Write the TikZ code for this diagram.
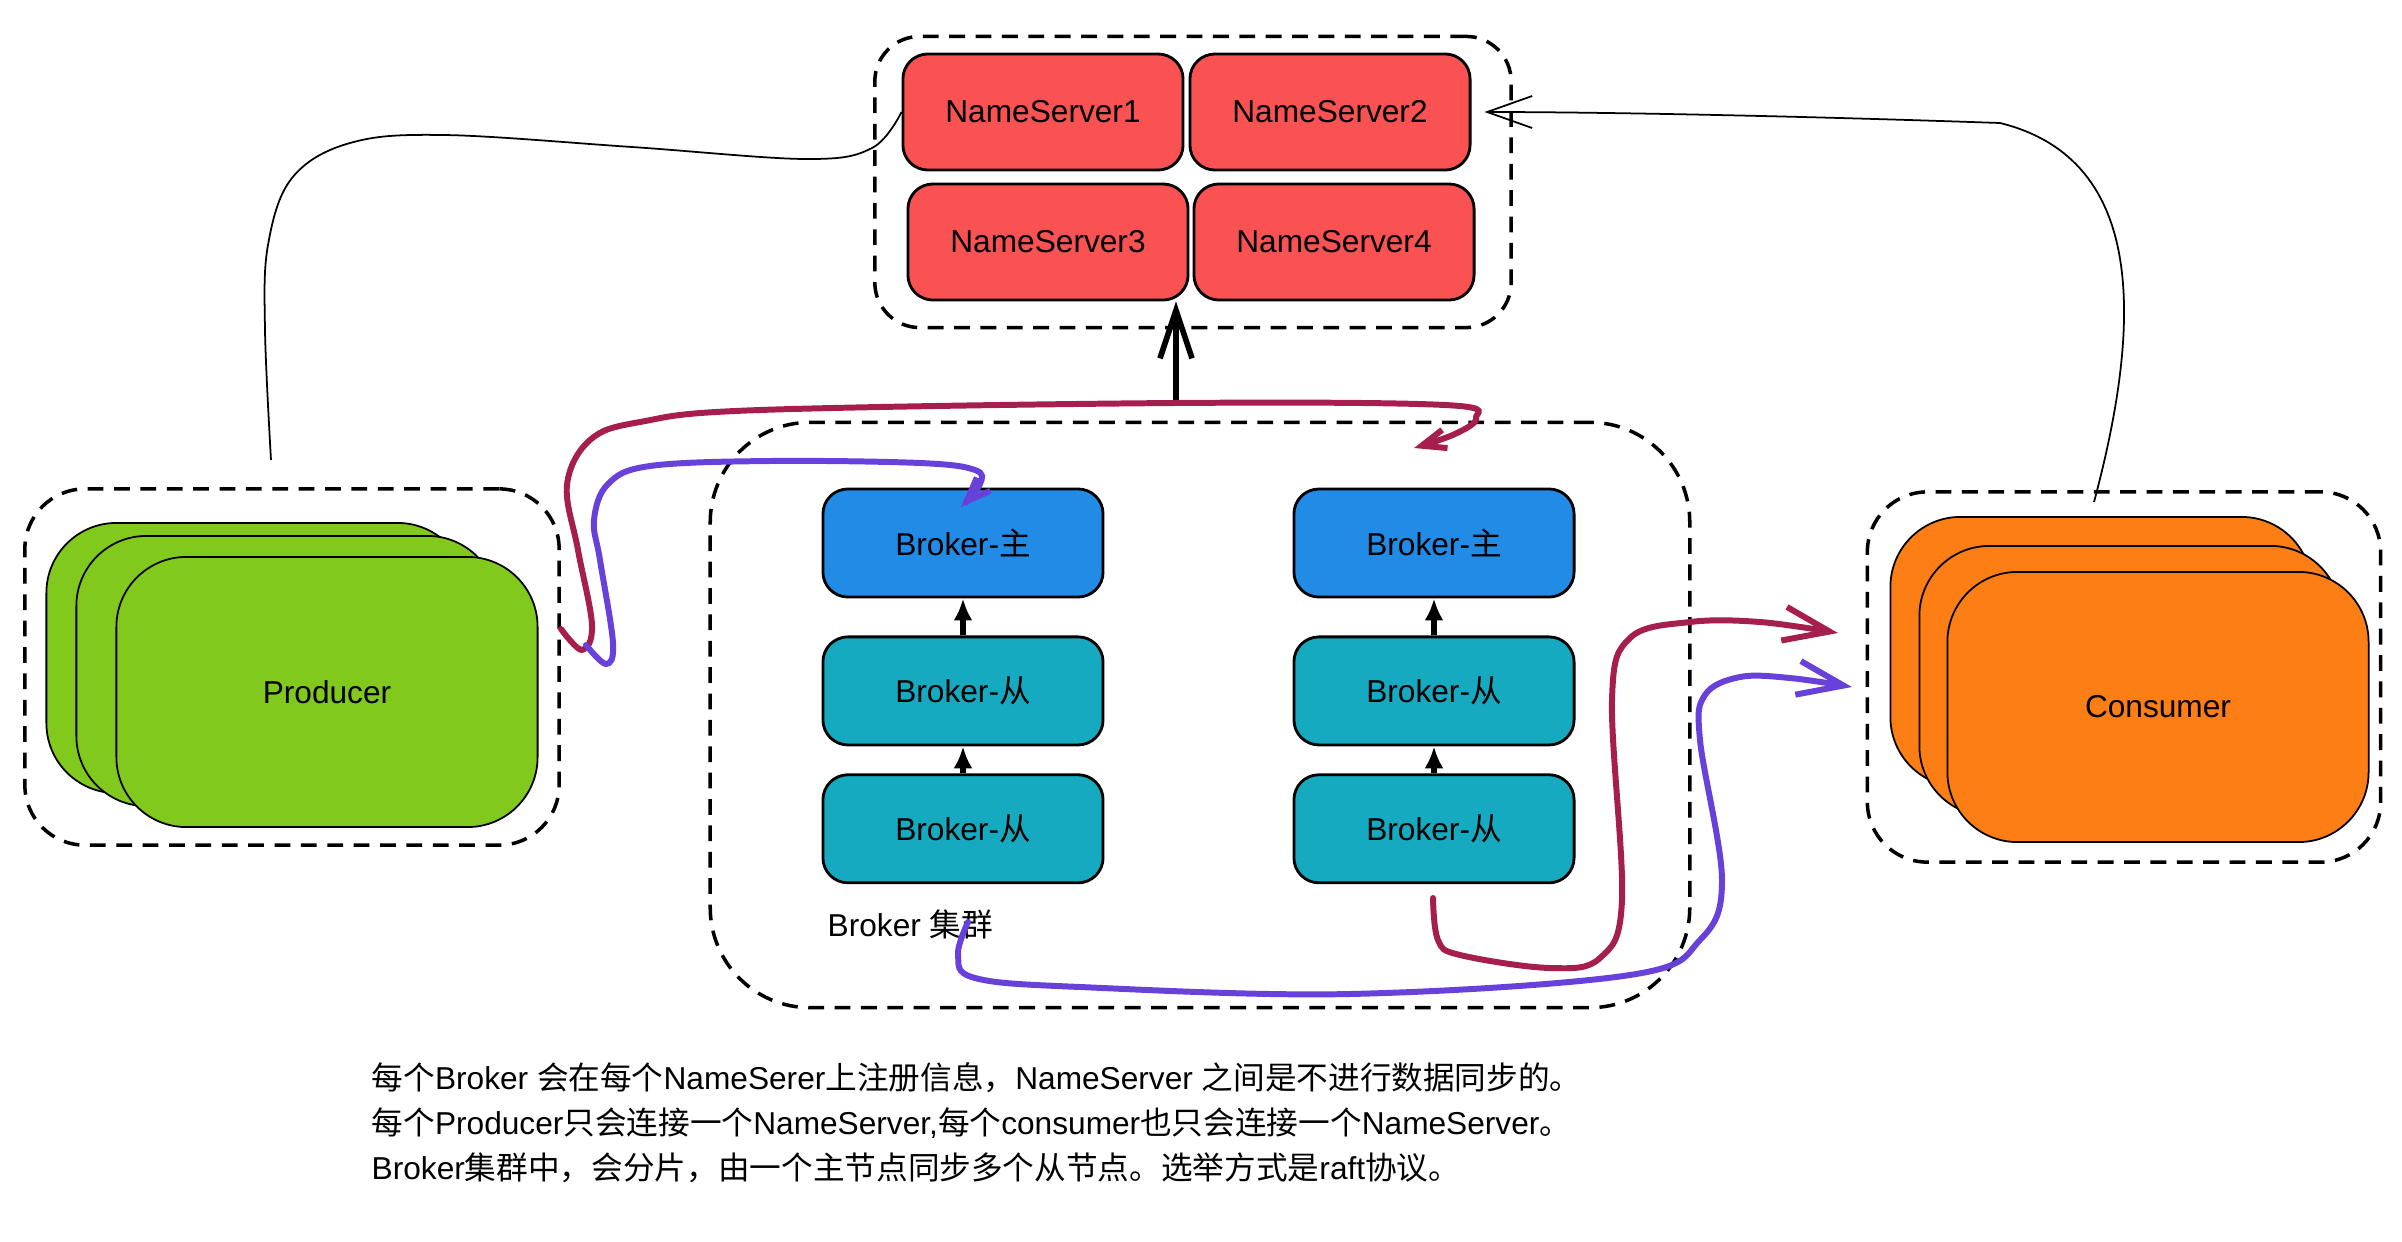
\documentclass[tikz,border=0pt]{standalone}
\usepackage{fontspec}
\setmainfont{Liberation Sans}
\newfontfamily\cjkfont{Noto Sans CJK SC}
\newcommand{\zh}[1]{{\cjkfont #1}}
\usepackage{xcolor}
\usetikzlibrary{arrows.meta,positioning}

\definecolor{nsred}{HTML}{FA5252}
\definecolor{bkblue}{HTML}{228BE6}
\definecolor{bkteal}{HTML}{15AABF}
\definecolor{prgreen}{HTML}{82C91E}
\definecolor{csorange}{HTML}{FD7E14}
\definecolor{magline}{HTML}{A61E4D}
\definecolor{violine}{HTML}{6741D9}

\begin{document}
\begin{tikzpicture}[x=0.01cm,y=-0.01cm,font=\fontsize{9}{11}\selectfont,
	cluster/.style={draw=black,line width=1pt,dash pattern=on 4.5pt off 3pt,rounded corners=#1},
	cluster/.default=6mm,
	ns/.style={draw=black,line width=0.8pt,fill=nsred,rounded corners=2.5mm,minimum width=2.8cm,minimum height=1.16cm},
	master/.style={draw=black,line width=0.8pt,fill=bkblue,rounded corners=2.5mm,minimum width=2.8cm,minimum height=1.08cm},
	slave/.style={master,fill=bkteal},
	card/.style={draw=black,line width=0.5pt,rounded corners=7mm,minimum width=4.21cm,minimum height=2.7cm},
	link/.style={line width=1.7pt,line cap=round,-{Straight Barb[length=4.6mm,width=3.4mm]}},
	shortlink/.style={line width=1.7pt,line cap=round,-{Straight Barb[length=2.4mm,width=1.9mm]}},
	up/.style={line width=1.9pt,-{Latex[length=2.2mm,width=1.9mm]}}]
	\useasboundingbox (0,0) rectangle (2402,1242);
	
	% dashed groups
	\node[cluster=4.5mm,minimum width=6.36cm,minimum height=2.91cm] (nsgrp) at (1193,182) {};
	\node[cluster=1cm,minimum width=9.79cm,minimum height=5.85cm] (bkgrp) at (1200,715) {};
	\node[cluster,minimum width=5.34cm,minimum height=3.56cm] (prgrp) at (292,667) {};
	\node[cluster,minimum width=5.13cm,minimum height=3.70cm] (csgrp) at (2124,677) {};
	
	% name servers
	\node[ns] (ns1) at (1043,112) {NameServer1};
	\node[ns] (ns2) at (1330,112) {NameServer2};
	\node[ns] (ns3) at (1048,242) {NameServer3};
	\node[ns] (ns4) at (1334,242) {NameServer4};
	
	% brokers
	\node[master] (mA) at (963,543) {Broker-\zh{主}};
	\node[slave,below=0.37cm of mA] (sA1) {Broker-\zh{从}};
	\node[slave,below=0.27cm of sA1] (sA2) {Broker-\zh{从}};
	\node[master] (mB) at (1434,543) {Broker-\zh{主}};
	\node[slave,below=0.37cm of mB] (sB1) {Broker-\zh{从}};
	\node[slave,below=0.27cm of sB1] (sB2) {Broker-\zh{从}};
	\node[anchor=west,inner sep=0] (bklabel) at (827,924) {Broker \zh{集群}};
	
	\draw[up] (sA1) -- (mA);
	\draw[up] (sA2) -- (sA1);
	\draw[up] (sB1) -- (mB);
	\draw[up] (sB2) -- (sB1);
	
	% producers and consumers
	\node[card,fill=prgreen] (pr3) at (257,658) {};
	\node[card,fill=prgreen] (pr2) at (287,671) {};
	\node[card,fill=prgreen] (pr1) at (327,692) {Producer};
	\node[card,fill=csorange] (cs3) at (2101,652) {};
	\node[card,fill=csorange] (cs2) at (2130,681) {};
	\node[card,fill=csorange] (cs1) at (2158,707) {Consumer};
	
	% free ends
	\coordinate (prtop) at (271,460);
	\coordinate (cstop) at (2094,502);
	\coordinate (bktop) at (1176,402);
	\coordinate (mgA) at (561,629);
	\coordinate (vtA) at (586,645);
	\coordinate (mgB) at (1433,898);
	\coordinate (vtB) at (968,922);
	
	% thin lines to the name servers
	\draw[line width=0.5pt] plot[smooth,tension=0.6] coordinates {(prtop) (265,330) (268,245) (292,178)
		(350,143) (444,135) (632,147) (806,159) (872,148) (ns1.west)};
	\draw[line width=0.5pt,-{Straight Barb[length=4.5mm,width=3.2mm]},shorten >=1.3mm] (cstop)
		.. controls (2140,330) and (2150,160) .. (2000,123) .. controls (1800,116) and (1600,112) .. (ns2.east);
	\draw[line width=1.6pt,-{Straight Barb[length=4.8mm,width=3.2mm]}] (bktop) -- (bktop |- ns3.south);
	
	% register and consume
	\draw[shortlink,magline] plot[smooth,tension=0.6] coordinates {(mgA) (582,650) (592,625) (578,550) (567,485)
		(590,440) (640,422) (760,410) (1175,403) (1445,405) (1476,418) (1455,434) (1414,448)};
	\draw[shortlink,violine] plot[smooth,tension=0.6] coordinates {(vtA) (606,664) (613,643) (600,560) (594,520)
		(608,484) (650,466) (770,461) (920,463) (975,470) (980,484) (961,507)};
	\draw[link,magline] plot[smooth,tension=0.6] coordinates {(mgB) (1438,940) (1460,955) (1550,968) (1600,958)
		(1622,900) (1612,700) (1630,638) (1690,622) (1760,622) (1838,633)};
	\draw[link,violine] plot[smooth,tension=0.6] coordinates {(vtB) (958,955) (975,978) (1080,987) (1350,994)
		(1630,975) (1700,940) (1722,880) (1700,740) (1705,695) (1740,677) (1790,678) (1852,687)};
	
	% note
	\node[anchor=west,align=left,inner sep=0,font=\fontsize{9}{12.8}\selectfont] (note) at (371,1123) {%
		\zh{每个}Broker \zh{会在每个}NameSerer\zh{上注册信息，}NameServer \zh{之间是不进行数据同步的。}\\
		\zh{每个}Producer\zh{只会连接一个}NameServer,\zh{每个}consumer\zh{也只会连接一个}NameServer\zh{。}\\
		Broker\zh{集群中，会分片，由一个主节点同步多个从节点。选举方式是}raft\zh{协议。}};
\end{tikzpicture}
\end{document}
